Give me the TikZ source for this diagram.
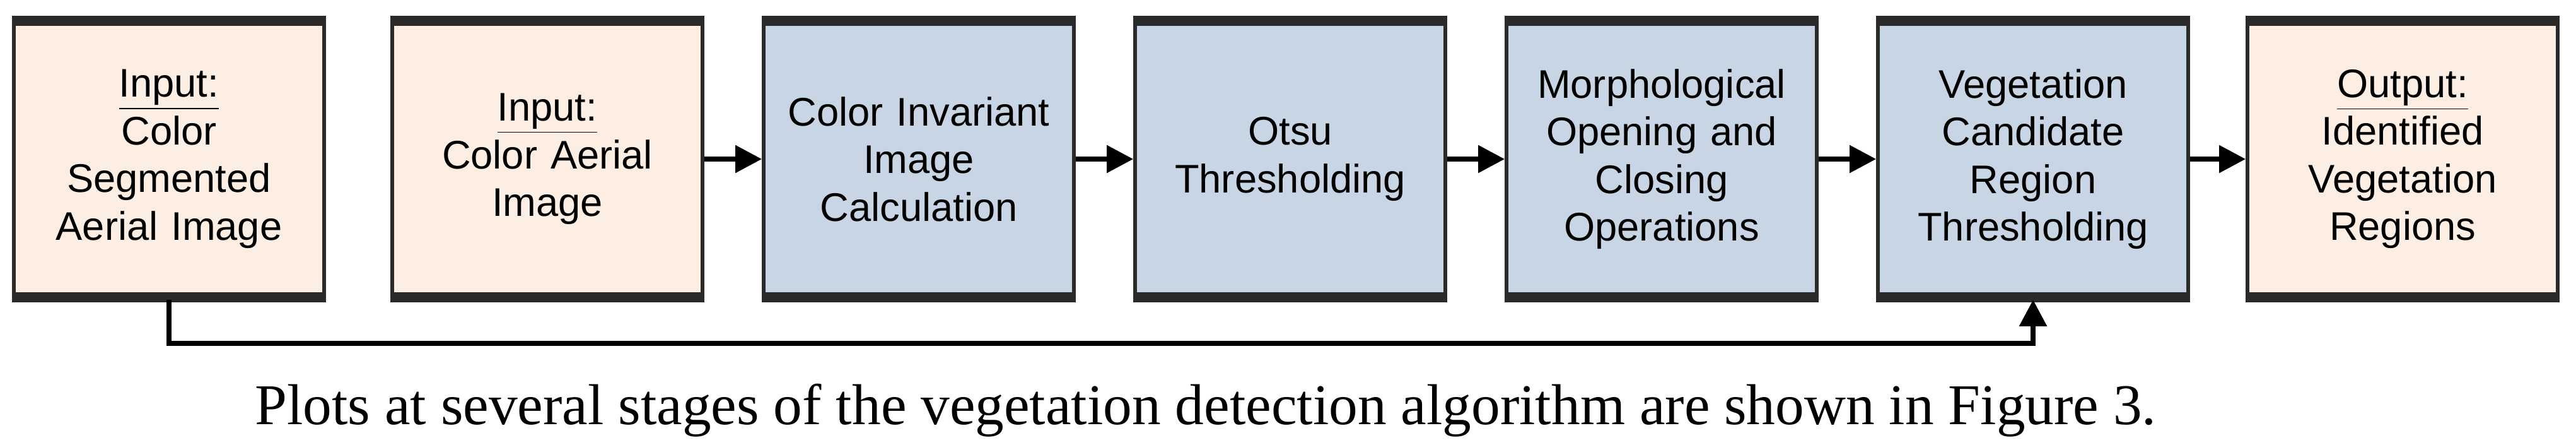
\documentclass[tikz,border=0pt]{standalone}
\usepackage{fontspec}
\setmainfont{Liberation Sans}
\newfontfamily\capfont{Liberation Serif}
\usetikzlibrary{arrows.meta}
\definecolor{peach}{HTML}{FDEEE3}
\definecolor{steel}{HTML}{C8D5E4}
\definecolor{edge}{HTML}{2A2A2A}
\tikzset{
 box/.style={draw=edge,line width=1.6pt,minimum width=4.92cm,minimum height=4.40cm,inner sep=0pt,align=center,text width=4.6cm,font=\fontsize{18}{21.5}\selectfont},
 inbox/.style={box,fill=peach},
 procbox/.style={box,fill=steel},
 topbar/.style={line width=4.5pt,edge},
 flow/.style={line width=2.4pt,-{Triangle[length=0.42cm,width=0.42cm]}},
}
\newcommand{\uline}[1]{\underline{#1}}
\begin{document}
\begin{tikzpicture}
\useasboundingbox (0,0) rectangle (40.85,-7.04);
\node[inbox] (a) at (2.68,-2.52) {\uline{Input:}\\Color\\Segmented\\Aerial Image};
\node[inbox] (b) at (8.68,-2.52) {\uline{Input:}\\Color Aerial\\Image};
\node[procbox] (c) at (14.57,-2.52) {Color Invariant\\Image\\Calculation};
\node[procbox] (d) at (20.46,-2.52) {Otsu\\Thresholding};
\node[procbox] (e) at (26.35,-2.52) {Morphological\\Opening and\\Closing\\Operations};
\node[procbox] (f) at (32.24,-2.52) {Vegetation\\Candidate\\Region\\Thresholding};
\node[inbox] (g) at (38.10,-2.52) {\uline{Output:}\\Identified\\Vegetation\\Regions};
\foreach \n in {a,b,c,d,e,f,g}{
  \draw[topbar] ([yshift=-1pt]\n.north west) -- ([yshift=-1pt]\n.north east);
  \draw[topbar] ([yshift=1pt]\n.south west) -- ([yshift=1pt]\n.south east);
}
\draw[flow] (b) -- (c);
\draw[flow] (c) -- (d);
\draw[flow] (d) -- (e);
\draw[flow] (e) -- (f);
\draw[flow] (f) -- (g);
\coordinate (low) at (0,-5.44);
\draw[flow] (a.south) |- (low -| f.south) -- (f.south);
\node[font=\capfont\fontsize{26}{30}\selectfont,anchor=base] (cap) at (19.12,-6.72) {Plots at several stages of the vegetation detection algorithm are shown in Figure 3.};
\end{tikzpicture}
\end{document}
